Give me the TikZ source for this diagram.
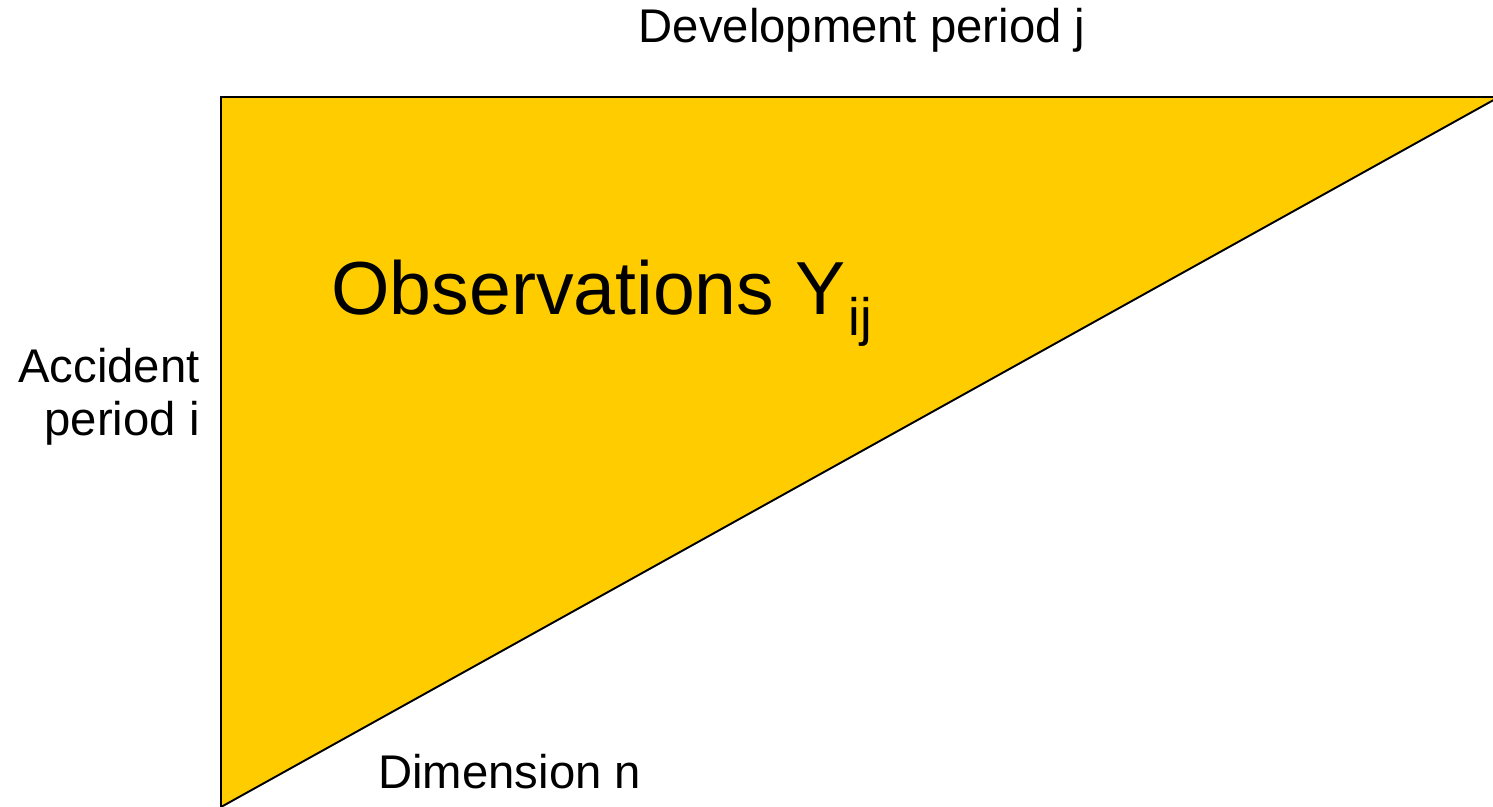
\documentclass[tikz,border=0pt]{standalone}
\usepackage{fontspec}
\setmainfont{Liberation Sans}

\definecolor{obsgelb}{HTML}{FFCC00}

\tikzset{
  achse/.style={inner sep=0pt, font=\fontsize{26.9}{30}\selectfont},
  dreieck/.style={draw=black, line width=1.1pt, fill=obsgelb, line join=miter},
  titel/.style={inner sep=0pt, font=\fontsize{42.8}{51}\selectfont},
}

\begin{document}
\begin{tikzpicture}[x=0.02cm, y=-0.02cm]
  \useasboundingbox (0,0) rectangle (1493,806);

  % Beobachtungsdreieck
  \begin{scope}
    \clip (0,0) rectangle (1493,806);
    \draw[dreieck] (221,97) -- (1499,97) -- (221,807) -- cycle;
  \end{scope}

  % Beschriftungen
  \node[achse, anchor=base] (entw) at (862,42) {Development period j};
  \node[achse, anchor=base east, align=right] (unfall) at (200,435)
    {Accident\\period i};
  \node[achse, anchor=base west] (dim) at (378,788) {Dimension n};
  \node[titel, anchor=base west] (obs) at (331,314)
    {Observations Y\hspace{2pt}\raisebox{-0.42cm}{\fontsize{30}{36}\selectfont ij}};
\end{tikzpicture}
\end{document}
